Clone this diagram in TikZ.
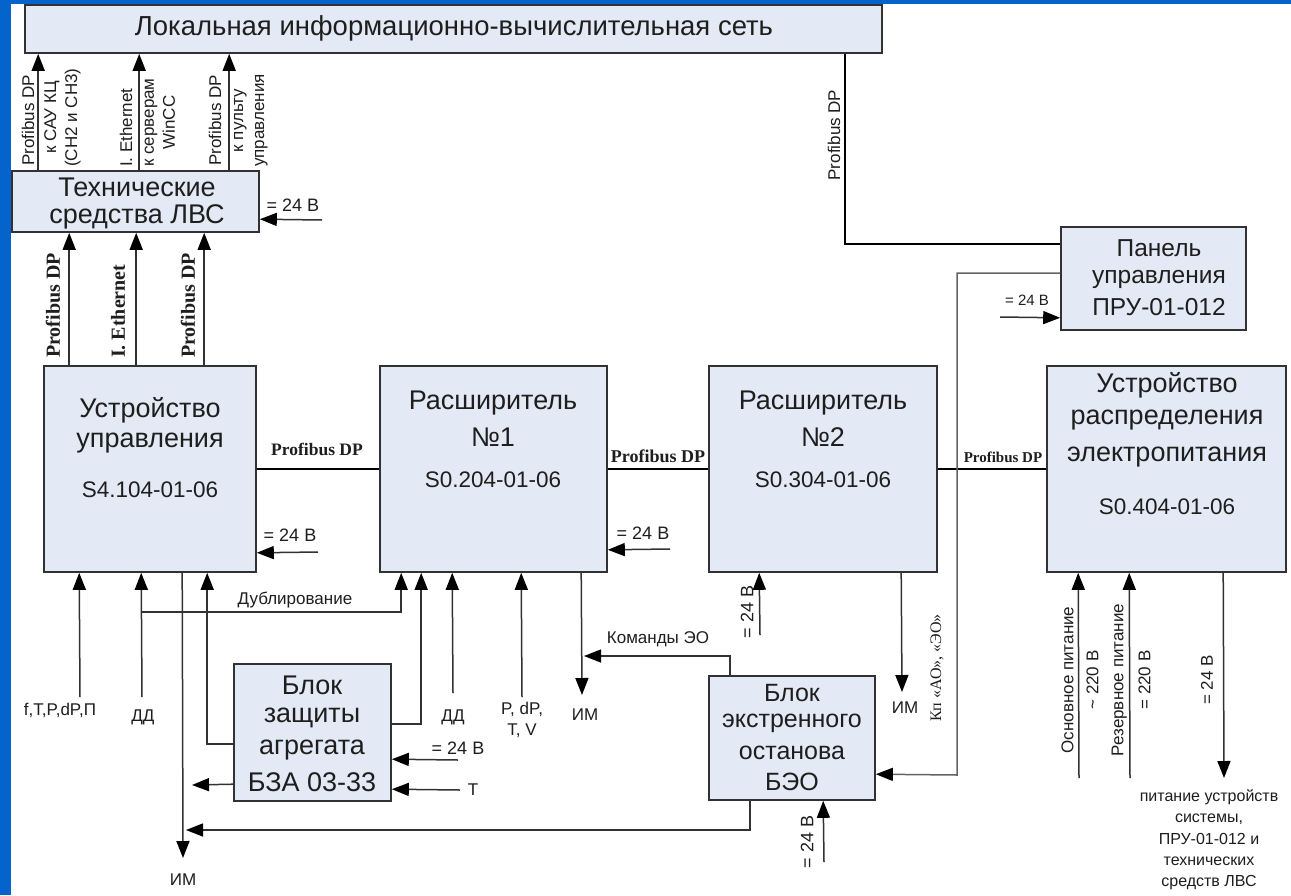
\documentclass[tikz,border=0pt]{standalone}
\usepackage{fontspec}
\setmainfont{Liberation Sans}
\newfontfamily\serifface{Liberation Serif}
\usetikzlibrary{arrows.meta}
\definecolor{bluebg}{RGB}{4,100,204}
\definecolor{boxfill}{RGB}{228,234,245}
\definecolor{boxline}{RGB}{50,50,50}
\definecolor{conn}{RGB}{50,50,50}
\definecolor{thinc}{RGB}{100,100,100}
\definecolor{txt}{RGB}{30,30,30}
\newcommand\fsz[2]{\fontsize{#1}{#2}\selectfont}
\begin{document}
\begin{tikzpicture}[x=1pt,y=-1pt,
  box/.style={draw=boxline, fill=boxfill, line width=1.6pt, inner sep=0pt, rectangle},
  conn/.style={draw=conn, line width=1.5pt},
  arr/.style={conn, -{Triangle[length=17pt,width=13pt,color=black]}},
  garr/.style={draw=thinc, line width=1.5pt, -{Triangle[length=17pt,width=13pt,color=black]}},
  pb/.style={draw=black, line width=2.4pt},
  ttl/.style={text=txt, inner sep=0pt, font=\fsz{27}{30}},
  code/.style={text=txt, inner sep=0pt, font=\fsz{22.5}{26}},
  sm/.style={text=txt, inner sep=0pt, font=\fsz{17}{21}, align=center},
  pbl/.style={text=txt, inner sep=0pt, font=\serifface\bfseries\fsz{18}{21}},
  rot/.style={rotate=90, anchor=west},
]
\useasboundingbox (0,0) rectangle (1291,895);
\fill[bluebg] (0,0) rectangle (1291,895);
\fill[white] (11,4) rectangle (1291,895);

% boxes
\node[box, minimum width=857pt, minimum height=48pt] (lan) at (453.5,29) {};
\node[box, minimum width=247pt, minimum height=61pt] (tech) at (135.5,201.5) {};
\node[box, minimum width=212pt, minimum height=206pt] (ctrl) at (150,469) {};
\node[box, minimum width=227pt, minimum height=206pt] (exp1) at (493.5,469) {};
\node[box, minimum width=228pt, minimum height=206pt] (exp2) at (823,469) {};
\node[box, minimum width=239pt, minimum height=206pt] (pwr) at (1166.5,469) {};
\node[box, minimum width=185pt, minimum height=103pt] (panel) at (1153.5,278.5) {};
\node[box, minimum width=157pt, minimum height=137pt] (bza) at (312.5,732.5) {};
\node[box, minimum width=166pt, minimum height=124pt] (beo) at (792,738) {};

% box texts
\node[ttl, font=\fsz{27.5}{30}] (tlan) at (454,28) {Локальная информационно-вычислительная сеть};
\node[ttl] (tt1) at (137,187) {Технические};
\node[ttl] (tt2) at (137,217) {средства ЛВС};
\node[ttl] (tc1) at (150,410) {Устройство};
\node[ttl] (tc2) at (150,443) {управления};
\node[code] (tc3) at (150,490) {S4.104-01-06};
\node[ttl] (te11) at (493,403) {Расширитель};
\node[ttl] (te12) at (493,437) {№1};
\node[code] (te13) at (493,480) {S0.204-01-06};
\node[ttl] (te21) at (823,403) {Расширитель};
\node[ttl] (te22) at (823,437) {№2};
\node[code] (te23) at (823,480) {S0.304-01-06};
\node[ttl] (tp1) at (1167,385) {Устройство};
\node[ttl] (tp2) at (1167,420) {распределения};
\node[ttl] (tp3) at (1167,457) {электропитания};
\node[code] (tp4) at (1167,507) {S0.404-01-06};
\node[ttl, font=\fsz{24.5}{28}] (tpn1) at (1159,248) {Панель};
\node[ttl, font=\fsz{24.5}{28}] (tpn2) at (1159,279) {управления};
\node[ttl, font=\fsz{24.5}{28}] (tpn3) at (1159,307) {ПРУ-01-012};
\node[ttl] (tb1) at (312,685) {Блок};
\node[ttl] (tb2) at (312,718) {защиты};
\node[ttl] (tb3) at (312,750) {агрегата};
\node[ttl] (tb4) at (312,782) {БЗА 03-33};
\node[ttl, font=\fsz{25}{28}] (to1) at (792,693) {Блок};
\node[ttl, font=\fsz{25}{28}] (to2) at (792,723) {экстренного};
\node[ttl, font=\fsz{25}{28}] (to3) at (792,753) {останова};
\node[ttl, font=\fsz{25}{28}] (to4) at (792,782) {БЭО};

% tech -> lan
\draw[arr] ([xshift=27pt]tech.north west) -- ([xshift=14pt]lan.south west);
\draw[arr] ([xshift=128pt]tech.north west) -- ([xshift=115pt]lan.south west);
\draw[arr] ([xshift=218pt]tech.north west) -- ([xshift=205pt]lan.south west);
\node[sm, rot] (r1) at (28,166) {Profibus DP};
\node[sm, rot] (r2) at (62.5,167) {к САУ КЦ\\(СН2 и СН3)};
\node[sm, rot] (r3) at (126,167) {I. Ethernet};
\node[sm, rot] (r4) at (160,167) {к серверам\\WinCC};
\node[sm, rot] (r5) at (215,166) {Profibus DP};
\node[sm, rot] (r6) at (251,167) {к пульту\\управления};

% ctrl -> tech
\draw[arr] ([xshift=26pt]ctrl.north west) -- ([xshift=58pt]tech.south west);
\draw[arr] ([xshift=93pt]ctrl.north west) -- ([xshift=125pt]tech.south west);
\draw[arr] ([xshift=161pt]ctrl.north west) -- ([xshift=193pt]tech.south west);
\node[pbl, rot, font=\serifface\bfseries\fsz{20}{22}] (b1) at (53,358) {Profibus DP};
\node[pbl, rot, font=\serifface\bfseries\fsz{20}{22}] (b2) at (118,358) {I. Ethernet};
\node[pbl, rot, font=\serifface\bfseries\fsz{20}{22}] (b3) at (188,358) {Profibus DP};

% 24 V into tech
\coordinate (v1) at (322,220);
\draw[arr] (v1) -- ([yshift=-49pt]tech.north east);
\node[sm, font=\fsz{18}{21}] (lv1) at (293,205) {= 24 В};

% profibus chain
\draw[pb] (ctrl.east) -- (exp1.west);
\draw[pb] (exp1.east) -- (exp2.west);
\draw[pb] (exp2.east) -- (pwr.west);
\node[pbl, font=\serifface\bfseries\fsz{17.5}{20}] (pl1) at (317,449) {Profibus DP};
\node[pbl] (pl2) at (658,456) {Profibus DP};
\node[pbl, font=\serifface\bfseries\fsz{15}{18}] (pl3) at (1003,457) {Profibus DP};

% lan -> panel
\draw[pb] ([xshift=821pt]lan.south west) |- ([yshift=-18pt]panel.north west);
\node[sm, rot, anchor=center, font=\fsz{17}{19}] (lpd) at (834,135) {Profibus DP};

% panel -> BEO (gray)
\coordinate (kp) at (957,775);
\draw[garr] ([yshift=-47pt]panel.north west) -| (kp) -- ([yshift=-99pt]beo.north east);
\node[sm, rot, anchor=center, font=\serifface\fsz{16}{19}] (lkp) at (937,668) {Кп «АО», «ЭО»};

% 24 V into panel
\coordinate (v4) at (1000,317);
\draw[arr] (v4) -- ([yshift=13pt]panel.south west);
\node[sm, font=\fsz{15}{18}] (lv4) at (1027,300) {= 24 В};

% 24 V into ctrl, exp1
\coordinate (v2) at (318,552);
\draw[arr] (v2) -- ([yshift=20pt]ctrl.south east);
\node[sm, font=\fsz{18}{21}] (lv2) at (290,535) {= 24 В};
\coordinate (v3) at (670,549);
\draw[arr] (v3) -- ([yshift=23pt]exp1.south east);
\node[sm, font=\fsz{18}{21}] (lv3) at (643,533) {= 24 В};

% ctrl bottom
\coordinate (f1) at (80,697);
\draw[arr] (f1) -- ([xshift=36pt]ctrl.south west);
\node[sm] (lf) at (60,710) {f,T,P,dP,П};
\coordinate (d1) at (142,697);
\draw[arr] (d1) -- ([xshift=98pt]ctrl.south west);
\node[sm] (ld1) at (143,717) {ДД};
\draw[arr] ([yshift=-81pt]bza.north west) -| ([xshift=164pt]ctrl.south west);
\coordinate (im1) at (183,858);
\draw[arr] ([xshift=139pt]ctrl.south west) -- (im1);
\node[sm] (lim1) at (183,880) {ИМ};

% duplication
\coordinate (dj) at (142,612);
\draw[arr] (dj) -| ([xshift=22pt]exp1.south west);
\node[sm] (ldub) at (295,600) {Дублирование};

% bza -> exp1
\draw[arr] ([yshift=-61pt]bza.north east) -| ([xshift=42pt]exp1.south west);

% exp1 bottom
\coordinate (d2) at (453,693);
\draw[arr] (d2) -- ([xshift=73pt]exp1.south west);
\node[sm] (ld2) at (453,717) {ДД};
\coordinate (pv) at (522,697);
\draw[arr] (pv) -- ([xshift=142pt]exp1.south west);
\node[sm] (lpv) at (522,720) {P, dP,\\T, V};
\coordinate (im2) at (582,695);
\draw[arr] ([xshift=202pt]exp1.south west) -- (im2);
\node[sm] (lim2) at (585,715) {ИМ};

% commands EO
\coordinate (ko) at (584,656);
\draw[arr] ([xshift=22pt]beo.north west) |- (ko);
\node[sm] (lko) at (658,639) {Команды ЭО};

% bza left arrow
\coordinate (bl) at (192,785);
\draw[arr] ([yshift=-121pt]bza.north west) -- (bl);

% beo bottom line
\coordinate (bb) at (186,830);
\draw[arr] ([xshift=42pt]beo.south west) |- (bb);

% bza right inputs
\coordinate (v5) at (458,760);
\draw[arr] (v5) -- ([yshift=-96pt]bza.north east);
\node[sm, font=\fsz{18}{21}] (lv5) at (458,748) {= 24 В};
\coordinate (tin) at (460,790);
\draw[arr] (tin) -- ([yshift=-126pt]bza.north east);
\node[sm] (lt) at (473,790) {T};

% exp2 bottom
\coordinate (v6) at (760,635);
\draw[arr] (v6) -- ([xshift=51pt]exp2.south west);
\node[sm, rot, anchor=center, font=\fsz{18}{21}] (lv6) at (747,612) {= 24 В};
\coordinate (im3) at (902,692);
\draw[arr] ([xshift=193pt]exp2.south west) -- (im3);
\node[sm] (lim3) at (905,708) {ИМ};

% beo bottom 24 V
\coordinate (v7) at (824,862);
\draw[arr] (v7) -- ([xshift=115pt]beo.south west);
\node[sm, rot, anchor=center, font=\fsz{18}{21}] (lv7) at (807,842) {= 24 В};

% power box bottom
\coordinate (p1) at (1079,778);
\draw[arr] (p1) -- ([xshift=32pt]pwr.south west);
\node[sm, rot, anchor=center, font=\fsz{17}{25}] (lp1) at (1080,680) {Основное питание\\\textasciitilde{} 220 В};
\coordinate (p2) at (1130,778);
\draw[arr] (p2) -- ([xshift=83pt]pwr.south west);
\node[sm, rot, anchor=center, font=\fsz{17}{27}] (lp2) at (1131,680) {Резервное питание\\= 220 В};
\coordinate (p3) at (1224,778);
\draw[arr] ([xshift=177pt]pwr.south west) -- (p3);
\node[sm, rot, anchor=center, font=\fsz{17}{21}] (lp3) at (1207,680) {= 24 В};
\node[sm, font=\fsz{16}{21.3}] (lpw) at (1209,840) {питание устройств\\системы,\\ПРУ-01-012 и\\технических\\средств ЛВС};
\end{tikzpicture}
\end{document}
